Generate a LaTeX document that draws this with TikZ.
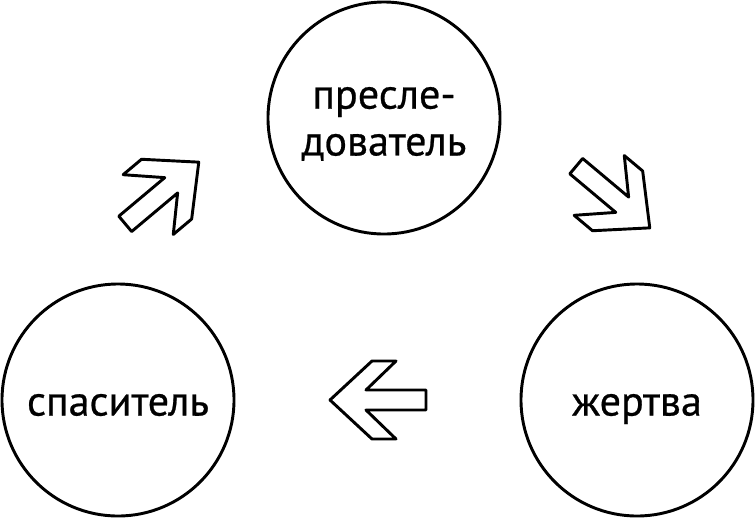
\documentclass[tikz,border=0pt]{standalone}
\usepackage{fontspec}
\newfontfamily\rolefont{PT Sans}[FakeBold=0.6]
\usetikzlibrary{positioning}
\tikzset{role/.style={circle,draw=black,line width=2.5pt,minimum size=6.96cm,inner sep=0pt,align=center,font=\rolefont\fontsize{36}{40}\selectfont}}
\tikzset{low/.style={text height=26.6pt,text depth=0pt}}
\tikzset{turn/.pic={\draw[line width=2.5pt,line join=round,fill=white] (48,0) -- (6,-39) -- (-18,-39) -- (12,-10) -- (-48,-10) -- (-48,10) -- (12,10) -- (-18,39) -- (6,39) -- cycle;}}

\begin{document}
\begin{tikzpicture}[x=0.03cm,y=-0.03cm]
  \useasboundingbox (0,0) rectangle (756,519);
  \node [role,text height=64pt,text depth=0pt] (P) at (384,118) {пресле-\\дователь};
  \node [role,low] (V) at (637,400) {жертва};
  \node [role,low] (R) at (118,400) {спаситель};

  \pic [rotate=-40] at (613,197) {turn};
  \pic [rotate=180] at (378,400) {turn};
  \pic [rotate=40] at (162,193) {turn};
\end{tikzpicture}
\end{document}
